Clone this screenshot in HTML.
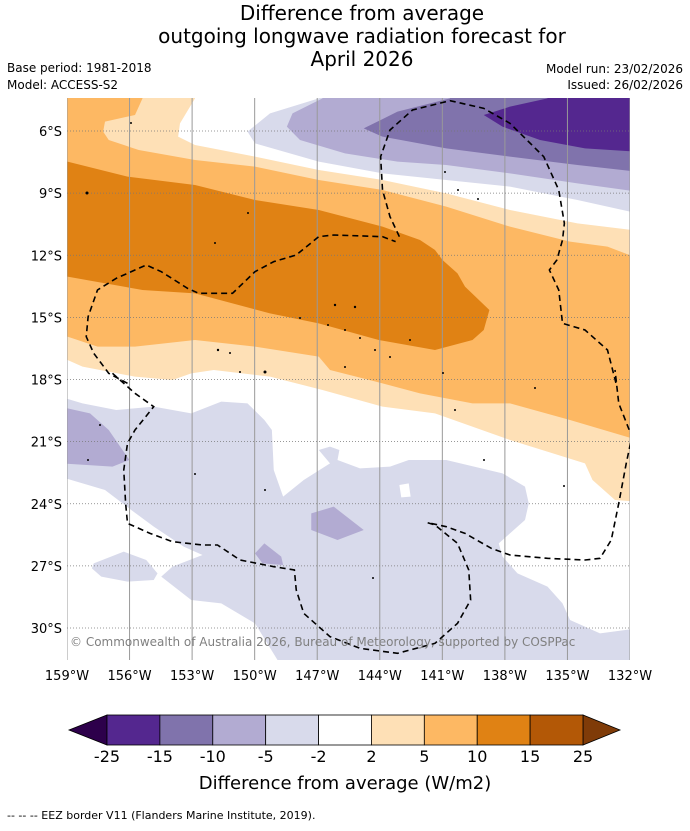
<!DOCTYPE html>
<html><head><meta charset="utf-8"><style>
html,body{margin:0;padding:0;background:#fff;}
body{width:690px;height:827px;overflow:hidden;font-family:"DejaVu Sans","Liberation Sans",sans-serif;}
svg text{font-family:"DejaVu Sans","Liberation Sans",sans-serif;}
</style></head><body>
<svg id="chart" width="690" height="827" viewBox="0 0 690 827" xmlns="http://www.w3.org/2000/svg">
<defs><clipPath id="mapclip"><rect x="67" y="98" width="563" height="562"/></clipPath></defs>
<g font-size="20" text-anchor="middle" fill="#000">
<text x="362" y="20">Difference from average</text>
<text x="362" y="43">outgoing longwave radiation forecast for</text>
<text x="362" y="66">April 2026</text>
</g>
<g font-size="12" fill="#000">
<text x="7" y="72">Base period: 1981-2018</text>
<text x="7" y="89">Model: ACCESS-S2</text>
<text x="683" y="73" text-anchor="end">Model run: 23/02/2026</text>
<text x="683" y="89" text-anchor="end">Issued: 26/02/2026</text>
</g>
<g id="map" clip-path="url(#mapclip)">
<rect x="67" y="98" width="563" height="562" fill="#fff"/>
<g transform="translate(60,90) scale(0.375,0.33333)" stroke="none">
<path fill="#fee0b6" d="M0,0 L360,0 L360,25 L320,100 L315,140 L360,165 L520,200 L690,240 L860,270 L1030,310 L1200,360 L1380,400 L1600,430 L1600,1240 L1480,1230 L1420,1170 L1400,1120 L1200,1050 L1000,970 L860,950 L700,900 L560,860 L410,840 L350,850 L300,870 L200,860 L60,830 L0,800 Z"/>
<path fill="#fdb863" d="M0,0 L220,0 L220,25 L200,75 L120,95 L115,125 L130,150 L210,180 L360,210 L520,230 L690,270 L860,300 L1030,350 L1200,410 L1360,455 L1460,470 L1600,530 L1600,1052 L1540,1050 L1360,990 L1200,940 L1100,940 L960,910 L860,880 L720,840 L690,800 L520,770 L360,750 L200,770 L100,770 L20,740 L0,740 Z"/>
<path fill="#e08214" d="M0,215 L20,215 L180,260 L360,285 L520,330 L690,360 L860,410 L960,450 L1000,480 L1020,510 L1060,550 L1080,590 L1145,660 L1130,720 L1100,750 L1000,780 L850,750 L690,700 L560,670 L360,610 L220,600 L20,560 L0,560 Z"/>
<path fill="#d8daeb" d="M690,0 L690,25 L560,70 L500,125 L520,160 L690,215 L860,250 L1030,270 L1200,290 L1380,330 L1540,370 L1600,372 L1600,0 Z"/>
<path fill="#b2abd2" d="M700,0 L700,25 L620,70 L605,110 L640,150 L760,190 L900,215 L1030,225 L1200,250 L1380,280 L1540,305 L1600,306 L1600,0 Z"/>
<path fill="#8073ac" d="M1040,0 L1040,25 L900,65 L810,115 L860,140 L1030,175 L1200,200 L1380,225 L1540,245 L1600,246 L1600,0 Z"/>
<path fill="#54278f" d="M1300,0 L1300,25 L1200,50 L1130,75 L1180,110 L1280,150 L1400,175 L1540,185 L1600,186 L1600,0 Z"/>
</g>
<g transform="translate(60,370) scale(0.375,0.33333)" stroke="none">
<path fill="#d8daeb" fill-rule="evenodd" d="M0,80 L60,100 L150,120 L250,110 L350,130 L430,95 L500,100 L545,150 L565,180 L570,300 L595,380 L650,330 L720,280 L690,240 L720,230 L745,240 L740,270 L800,295 L880,290 L930,270 L1030,270 L1180,310 L1240,350 L1250,400 L1240,450 L1170,520 L1180,560 L1220,610 L1300,650 L1340,700 L1360,750 L1440,790 L1540,775 L1600,775 L1600,1000 L580,1000 L580,870 L520,760 L430,700 L350,690 L270,620 L300,590 L380,555 L330,530 L250,470 L190,420 L120,360 L0,320 Z M905,345 L930,340 L935,380 L910,382 Z"/>
<path fill="#d8daeb" d="M90,580 L170,545 L230,570 L260,610 L250,630 L180,635 L110,620 L85,595 Z"/>
<path fill="#b2abd2" d="M0,110 L80,130 L130,180 L185,270 L140,290 L0,280 Z"/>
<path fill="#b2abd2" d="M670,430 L730,410 L810,480 L740,510 L670,480 Z"/>
<path fill="#b2abd2" d="M520,550 L545,520 L590,560 L595,585 L540,580 Z"/>
</g>
<g id="grid"></g>
<g fill="none" stroke="#000" stroke-width="1.6" stroke-dasharray="6,4">
<path transform="translate(60,90) scale(0.375,0.33333)" vector-effect="non-scaling-stroke" d="M180,880 L130,850 L90,790 L70,740 L75,680 L100,600 L150,565 L230,525 L270,545 L340,595 L370,610 L460,610 L520,545 L570,515 L630,495 L690,440 L730,435 L860,440 L895,455 M905,440 L880,380 L860,300 L855,200 L880,120 L940,60 L1040,32 L1130,55 L1200,100 L1290,200 L1330,300 L1345,400 L1340,450 L1325,510 L1305,540 L1330,600 L1340,700 L1400,720 L1460,780 L1485,890"/>
<path transform="translate(60,370) scale(0.375,0.33333)" vector-effect="non-scaling-stroke" d="M140,10 L200,70 L250,110 L200,180 L180,220 L170,300 L175,400 L180,460 L240,490 L300,515 L380,525 L420,525 L480,570 L570,590 L625,600 L630,660 L650,730 L720,800 L800,835 L900,850 L1000,820 L1060,760 L1095,690 L1090,600 L1060,520 L1000,465 L980,458 L1030,470 L1080,490 L1150,535 L1200,555 L1300,565 L1400,570 L1440,565 L1470,510 L1490,400 L1510,280 L1525,200 L1490,100 L1480,0"/>
</g>
<g fill="#000">
<circle cx="87" cy="193" r="1.5"/><circle cx="131" cy="123" r="1"/><circle cx="248" cy="213" r="1"/><circle cx="215" cy="243" r="1"/>
<circle cx="335" cy="305" r="1.2"/><circle cx="355" cy="307" r="1.2"/><circle cx="300" cy="318" r="1"/><circle cx="328" cy="325" r="1"/><circle cx="345" cy="330" r="1"/><circle cx="360" cy="338" r="1"/><circle cx="375" cy="350" r="1"/><circle cx="390" cy="357" r="1"/><circle cx="218" cy="350" r="1.2"/><circle cx="230" cy="353" r="1"/><circle cx="265" cy="372" r="1.5"/><circle cx="240" cy="372" r="1"/><circle cx="345" cy="367" r="1"/><circle cx="410" cy="340" r="1"/><circle cx="443" cy="373" r="1"/><circle cx="455" cy="410" r="1"/><circle cx="478" cy="199" r="1"/><circle cx="458" cy="190" r="1"/><circle cx="445" cy="172" r="1"/><circle cx="484" cy="460" r="1"/><circle cx="535" cy="388" r="1"/><circle cx="564" cy="486" r="1"/><circle cx="373" cy="578" r="1"/><circle cx="265" cy="490" r="1"/><circle cx="195" cy="474" r="1"/><circle cx="88" cy="460" r="1"/><circle cx="100" cy="425" r="1"/>
</g>
<text x="70" y="646" font-size="12" fill="#808080">© Commonwealth of Australia 2026, Bureau of Meteorology, supported by COSPPac</text>
</g>
<g id="axes"></g>
<g id="colorbar"></g>
<text x="345" y="789" font-size="18" text-anchor="middle" fill="#000">Difference from average (W/m2)</text>
<text x="7" y="819" font-size="11" fill="#000">--  --  -- EEZ border V11 (Flanders Marine Institute, 2019).</text>
</svg>
<script>
const lonTicks = [-159,-156,-153,-150,-147,-144,-141,-138,-135,-132];
const lonLabels = ["159°W","156°W","153°W","150°W","147°W","144°W","141°W","138°W","135°W","132°W"];
const latTicks = [-6,-9,-12,-15,-18,-21,-24,-27,-30];
const latLabels = ["6°S","9°S","12°S","15°S","18°S","21°S","24°S","27°S","30°S"];
const levels = [-25,-15,-10,-5,-2,2,5,10,15,25];
const levelColors = ["#54278f","#8073ac","#b2abd2","#d8daeb","#ffffff","#fee0b6","#fdb863","#e08214","#b35806"];
const extendColors = ["#2d004b","#7f3b08"];

const NS="http://www.w3.org/2000/svg";
function xOf(lon){return 67+(lon+159)*(563/27);}
function yOf(lat){return 131+(-6-lat)*(497/24);}
function mk(tag,attrs,parent){const e=document.createElementNS(NS,tag);for(const k in attrs)e.setAttribute(k,attrs[k]);parent.appendChild(e);return e;}
const grid=document.getElementById('grid');
lonTicks.forEach(l=>{const e=mk('line',{x1:xOf(l),x2:xOf(l),y1:98,y2:660,stroke:'#999','stroke-width':1},grid);

});
latTicks.forEach(l=>{const e=mk('line',{x1:67,x2:630,y1:yOf(l),y2:yOf(l),stroke:'#777','stroke-width':0.8,'stroke-dasharray':'1,2'},grid);

});
const axes=document.getElementById('axes');
lonTicks.forEach((l,i)=>{const t=mk('text',{x:xOf(l),y:680,'font-size':13,'text-anchor':'middle'},axes);t.textContent=lonLabels[i];

});
latTicks.forEach((l,i)=>{const t=mk('text',{x:62,y:yOf(l)+5,'font-size':13,'text-anchor':'end'},axes);t.textContent=latLabels[i];

});
const cb=document.getElementById('colorbar');
const cbX0=107,cbX1=583,cbTop=715,cbBot=745,segW=(cbX1-cbX0)/levelColors.length;
const lt=mk('polygon',{points:`69,${(cbTop+cbBot)/2} ${cbX0},${cbTop} ${cbX0},${cbBot}`,fill:extendColors[0],stroke:'#000','stroke-width':0.8},cb);


const rt=mk('polygon',{points:`620,${(cbTop+cbBot)/2} ${cbX1},${cbTop} ${cbX1},${cbBot}`,fill:extendColors[1],stroke:'#000','stroke-width':0.8},cb);


levelColors.forEach((c,i)=>{const r=mk('rect',{x:cbX0+i*segW,y:cbTop,width:segW,height:cbBot-cbTop,fill:c,stroke:'#000','stroke-width':0.8},cb);

});
levels.forEach((v,i)=>{const t=mk('text',{x:cbX0+i*segW,y:762,'font-size':16,'text-anchor':'middle'},cb);t.textContent=String(v);

});
</script>
</body></html>
